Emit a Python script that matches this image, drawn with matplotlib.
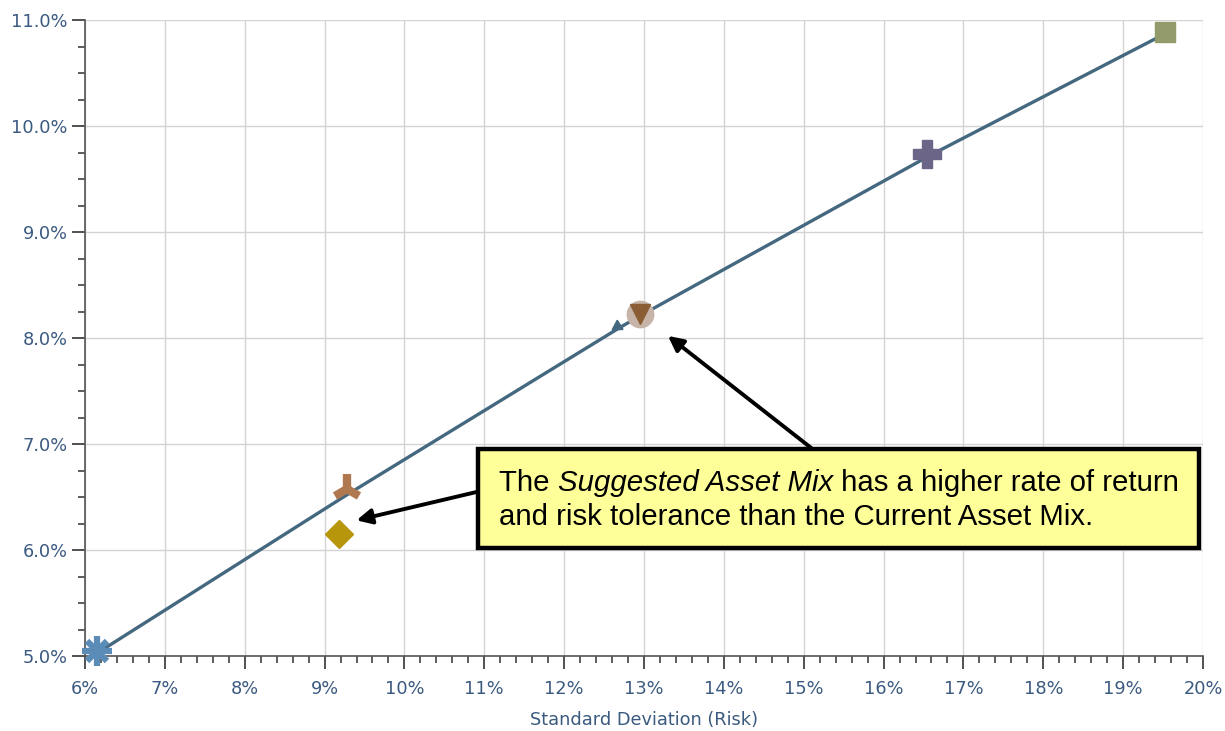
import matplotlib
matplotlib.use("Agg")
import matplotlib.pyplot as plt
from matplotlib.ticker import MultipleLocator, FuncFormatter
from matplotlib.patches import Rectangle

# Frontier line (std dev %, return %)
line_x = [6.2, 9.3, 12.7, 13.0, 16.6, 19.55]
line_y = [5.05, 6.53, 8.10, 8.23, 9.73, 10.88]

# Portfolio markers
pt_asterisk = (6.15, 5.05)
pt_tri = (9.28, 6.58)
pt_diamond = (9.18, 6.15)
pt_arrowhead = (12.66, 8.11)
pt_circle = (12.95, 8.23)
pt_plus = (16.55, 9.74)
pt_square = (19.52, 10.89)

x_ticks = list(range(6, 21))
y_ticks = [5.0, 6.0, 7.0, 8.0, 9.0, 10.0, 11.0]

note_line1 = ["The ", "Suggested Asset Mix", " has a higher rate of return"]
note_line2 = "and risk tolerance than the Current Asset Mix."

fig = plt.figure(figsize=(12.25, 7.31), dpi=100)
ax = fig.add_axes([85/1225, 1-656/731, (1203-85)/1225, (656-20)/731])

ax.set_xlim(x_ticks[0], x_ticks[-1])
ax.set_ylim(y_ticks[0], y_ticks[-1])
ax.xaxis.set_major_locator(MultipleLocator(1))
ax.xaxis.set_minor_locator(MultipleLocator(0.2))
ax.yaxis.set_major_locator(MultipleLocator(1))
ax.yaxis.set_minor_locator(MultipleLocator(0.25))
ax.xaxis.set_major_formatter(FuncFormatter(lambda v, p: f"{v:.0f}%"))
ax.yaxis.set_major_formatter(FuncFormatter(lambda v, p: f"{v:.1f}%"))

ax.grid(True, which="major", color="#d3d3d3", linewidth=1.0)
ax.set_axisbelow(True)
for s in ["top", "right"]:
    ax.spines[s].set_visible(False)
for s in ["left", "bottom"]:
    ax.spines[s].set_color("#555555")
    ax.spines[s].set_linewidth(1.2)

tick_color = "#3b5a80"
ax.tick_params(axis="both", which="major", direction="out", length=9.5, width=1.2,
               color="#333333", labelcolor=tick_color, labelsize=12.8, pad=3)
ax.tick_params(axis="x", which="major", pad=8)
ax.tick_params(axis="both", which="minor", direction="out", length=5, width=1.1,
               color="#333333")
ax.set_xlabel("Standard Deviation (Risk)", color=tick_color, fontsize=12.8, labelpad=9)

ax.plot(line_x, line_y, color="#44687f", linewidth=2.4, zorder=3)

mk = dict(zorder=5, clip_on=False, linestyle="none")
ax.plot(*pt_asterisk, marker="+", markersize=21, mew=4.5, color="#5b8cb8", **mk)
ax.plot(*pt_asterisk, marker="x", markersize=15, mew=4.5, color="#5b8cb8", **mk)
ax.plot(*pt_tri, marker="2", markersize=21, mew=6, color="#b0784e", **mk)
ax.plot(*pt_diamond, marker="D", markersize=14, color="#b8960c", **mk)
ax.plot(*pt_arrowhead, marker=(3, 0, 122), markersize=9, color="#44687f", **mk)
ax.plot(*pt_circle, marker="o", markersize=19, color="#c6b4a8", **mk)
ax.plot(*pt_circle, marker="v", markersize=14, color="#8a5d34", zorder=6, clip_on=False)
ax.plot(*pt_plus, marker="P", markersize=20, color="#6b6688", mec="#6b6688", **mk)
ax.plot(*pt_square, marker="s", markersize=15, color="#939b6a", **mk)

# Arrows
arrow = dict(arrowstyle="-|>,head_length=0.9,head_width=0.45", color="black", lw=2.8,
             shrinkA=0, shrinkB=0)
ax.annotate("", xy=(13.3, 8.02), xytext=(15.2, 6.9), arrowprops=arrow, zorder=9)
ax.annotate("", xy=(9.4, 6.28), xytext=(11.2, 6.6), arrowprops=arrow, zorder=9)

# Annotation box (pixel-based placement converted to data)
def px2data(px, py):
    return (6 + (px - 85) / 80.0, 5 + (656 - py) / 106.0)

bx0, by0 = px2data(479, 548)
bx1, by1 = px2data(1201, 449)
ax.add_patch(Rectangle((bx0, by0), bx1 - bx0, by1 - by0, facecolor="#ffff99",
                       edgecolor="black", lw=3.2, zorder=10, clip_on=False))

fs = 21.2
tx, ty1 = px2data(500, 491)
_, ty2 = px2data(500, 525)
fig.canvas.draw()
r = fig.canvas.get_renderer()
cur_x = tx
for i, seg in enumerate(note_line1):
    t = ax.text(cur_x, ty1, seg, fontsize=fs, family="Liberation Sans",
                fontstyle="italic" if i == 1 else "normal", va="baseline", ha="left",
                zorder=11, clip_on=False)
    bb = t.get_window_extent(renderer=r)
    cur_x = ax.transData.inverted().transform((bb.x1, bb.y0))[0]
ax.text(tx, ty2, note_line2, fontsize=fs, family="Liberation Sans", va="baseline",
        ha="left", zorder=11, clip_on=False)

fig.savefig("out.png", dpi=100)
